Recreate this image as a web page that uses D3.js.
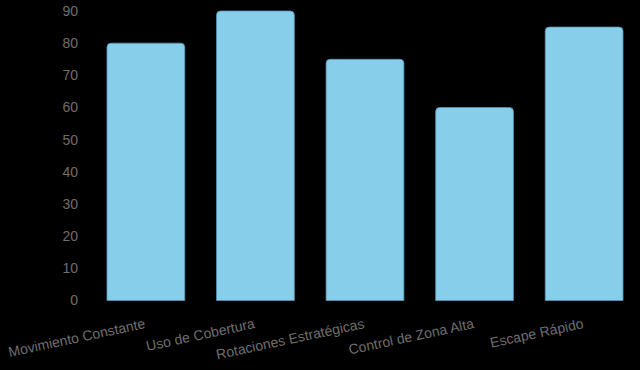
<!DOCTYPE html>
<html>
<head>
<meta charset="utf-8">
<script src="https://cdn.jsdelivr.net/npm/d3@7"></script>
<style>
  html, body { margin: 0; padding: 0; background: #000; }
  svg { display: block; }
</style>
</head>
<body>
<svg id="chart" width="640" height="370"></svg>
<script>
const categories = ["Movimiento Constante", "Uso de Cobertura", "Rotaciones Estratégicas", "Control de Zona Alta", "Escape Rápido"];
const values = [80, 90, 75, 60, 85];
const yTicks = [0, 10, 20, 30, 40, 50, 60, 70, 80, 90];

const svg = d3.select("#chart");
svg.append("rect").attr("width", 640).attr("height", 370).attr("fill", "#000");

const x = d3.scaleBand().domain(categories).range([90, 640]).paddingInner(0.29).paddingOuter(0.155);
const y = d3.scaleLinear().domain([0, 90]).range([300.5, 11]);

const yAxis = d3.axisLeft(y).tickValues(yTicks).tickSize(0).tickPadding(0);
const gy = svg.append("g").attr("transform", "translate(78,0)").call(yAxis);
gy.select(".domain").remove();
gy.selectAll("text").attr("fill", "#6e6e6e").style("font-family", "Liberation Sans, Arial, sans-serif").style("font-size", "14px");

const r = 4;
svg.append("g").selectAll("path").data(categories).join("path")
  .attr("d", (c, i) => {
    const x0 = x(c), x1 = x(c) + x.bandwidth(), yt = y(values[i]), yb = y(0);
    return `M${x0},${yb}V${yt + r}Q${x0},${yt} ${x0 + r},${yt}H${x1 - r}Q${x1},${yt} ${x1},${yt + r}V${yb}Z`;
  })
  .attr("fill", "#87CEEB")
  .attr("stroke", "#5b93b4")
  .attr("stroke-width", 0.8);

const xAxis = d3.axisBottom(x).tickSize(0).tickPadding(0);
const gx = svg.append("g").call(xAxis);
gx.select(".domain").remove();
gx.selectAll(".tick").attr("transform", d => `translate(${x(d) + x.bandwidth() / 2},328)`);
gx.selectAll("text")
  .attr("y", 0).attr("dy", 0).attr("x", 0)
  .attr("text-anchor", "end")
  .attr("transform", "rotate(-12)")
  .attr("fill", "#6e6e6e")
  .style("font-family", "Liberation Sans, Arial, sans-serif")
  .style("font-size", "14px");
</script>
</body>
</html>
